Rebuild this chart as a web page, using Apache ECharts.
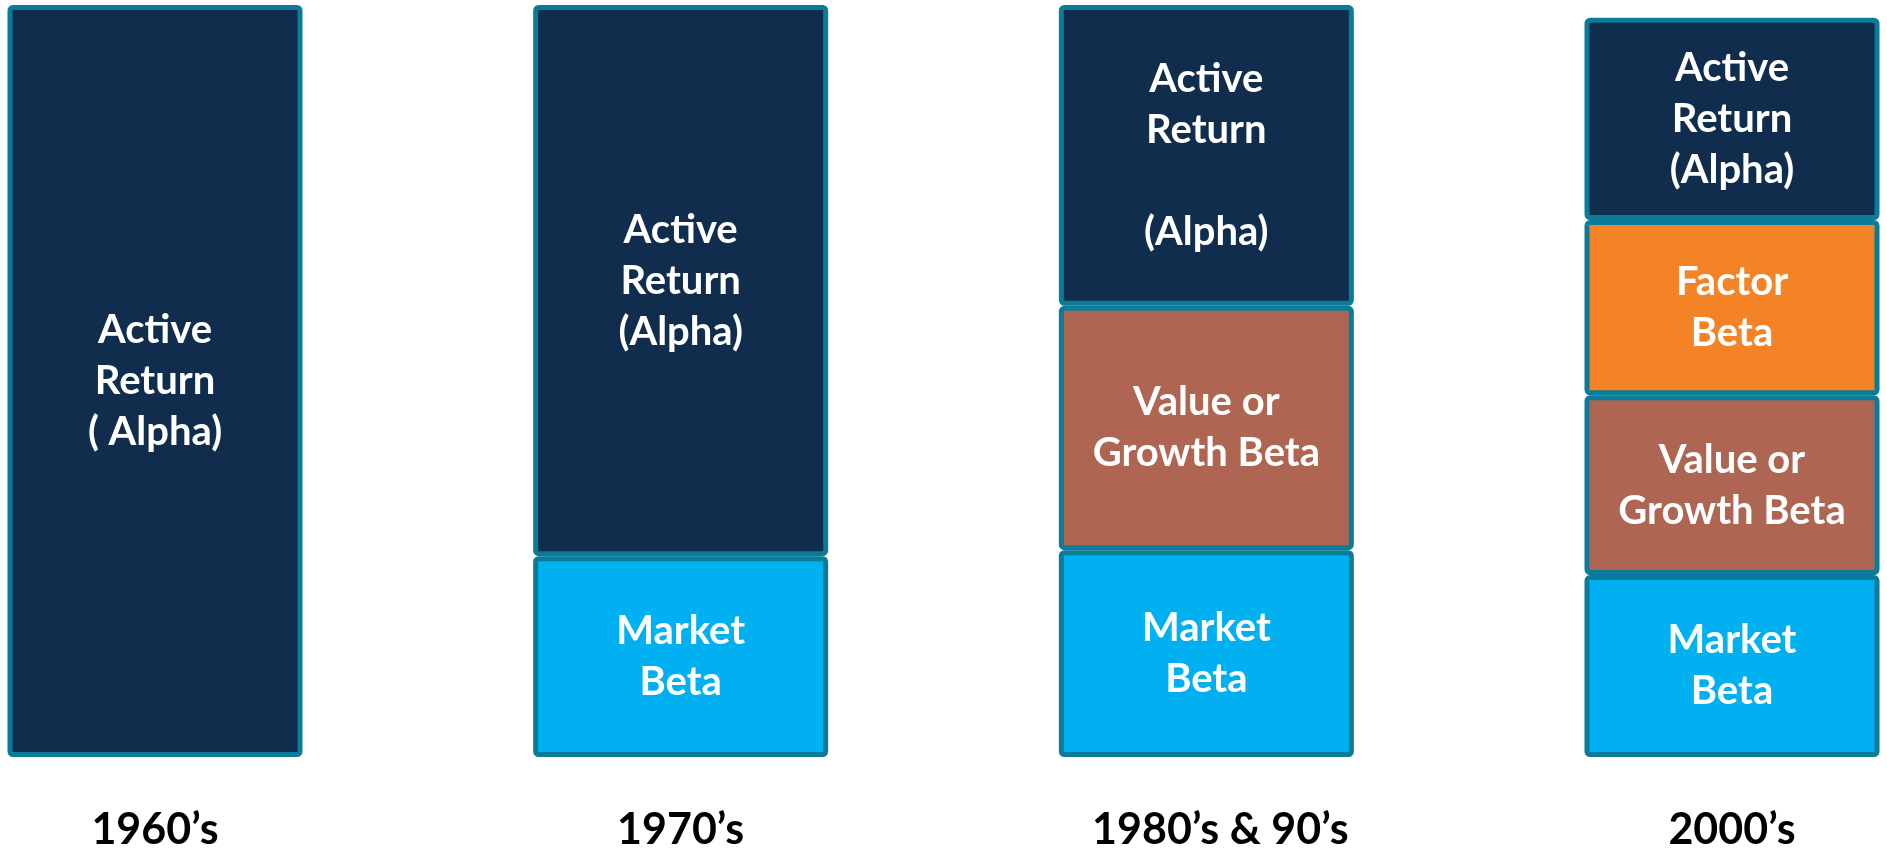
<!DOCTYPE html>
<html>
<head>
<meta charset="utf-8">
<script src="https://cdn.jsdelivr.net/npm/echarts@6/dist/echarts.min.js"></script>
<style>
  html, body { margin: 0; padding: 0; background: #fff; }
  #main { width: 1887px; height: 852px; }
</style>
</head>
<body>
<div id="main"></div>
<script>
// eras and the size of each return component (share of the full column)
var decades = ['1960\u2019s', '1970\u2019s', '1980\u2019s & 90\u2019s', '2000\u2019s'];
var marketBeta = ['-', 26.7, 27.5, 24.2];
var styleBeta = ['-', '-', 32.5, 23.9];
var factorBeta = ['-', '-', '-', 23.3];
var activeReturn = [100, 73.3, 40, 26.9];

// text written inside each block
var marketText = ['', 'Market\nBeta', 'Market\nBeta', 'Market\nBeta'];
var styleText = ['', '', 'Value or\nGrowth Beta', 'Value or\nGrowth Beta'];
var factorText = ['', '', '', 'Factor\nBeta'];
var activeText = ['Active\nReturn\n( Alpha)', 'Active\nReturn\n(Alpha)', 'Active\nReturn\n\n(Alpha)', 'Active\nReturn\n(Alpha)'];

var myChart = echarts.init(document.getElementById('main'), null, { renderer: 'canvas' });

function block(name, data, texts, color) {
	return {
		name: name,
		type: 'bar',
		stack: 'total',
		barWidth: 295,
		clip: false,
		data: data,
		itemStyle: {
			color: color,
			borderColor: '#0A7B98',
			borderWidth: 5,
			borderRadius: 3
		},
		label: {
			show: true,
			position: 'inside',
			color: '#fff',
			fontFamily: 'Lato',
			fontWeight: 'bold',
			fontSize: 40,
			lineHeight: 51,
			formatter: function (p) {
				return texts[p.dataIndex];
			}
		}
	};
}

var option = {
	animation: false,
	grid: {
		left: 155,
		right: 155,
		top: 5,
		bottom: 95
	},
	xAxis: {
		type: 'category',
		boundaryGap: false,
		data: decades.map(function (d, i) {
			// the third caption sits a little right of its column
			return i === 2 ? { value: d, textStyle: { padding: [0, 0, 0, 28] } } : d;
		}),
		axisLine: { show: false },
		axisTick: { show: false },
		splitLine: { show: false },
		axisLabel: {
			margin: 52,
			color: '#000',
			fontFamily: 'Lato',
			fontWeight: 'bold',
			fontSize: 43
		}
	},
	yAxis: {
		type: 'value',
		min: 0,
		max: 100,
		show: false,
		splitLine: { show: false }
	},
	series: [
		block('Market Beta', marketBeta, marketText, '#00B0F0'),
		block('Value or Growth Beta', styleBeta, styleText, '#AE6551'),
		block('Factor Beta', factorBeta, factorText, '#F48325'),
		block('Active Return (Alpha)', activeReturn, activeText, '#112D4E')
	]
};

myChart.setOption(option);
</script>
</body>
</html>
